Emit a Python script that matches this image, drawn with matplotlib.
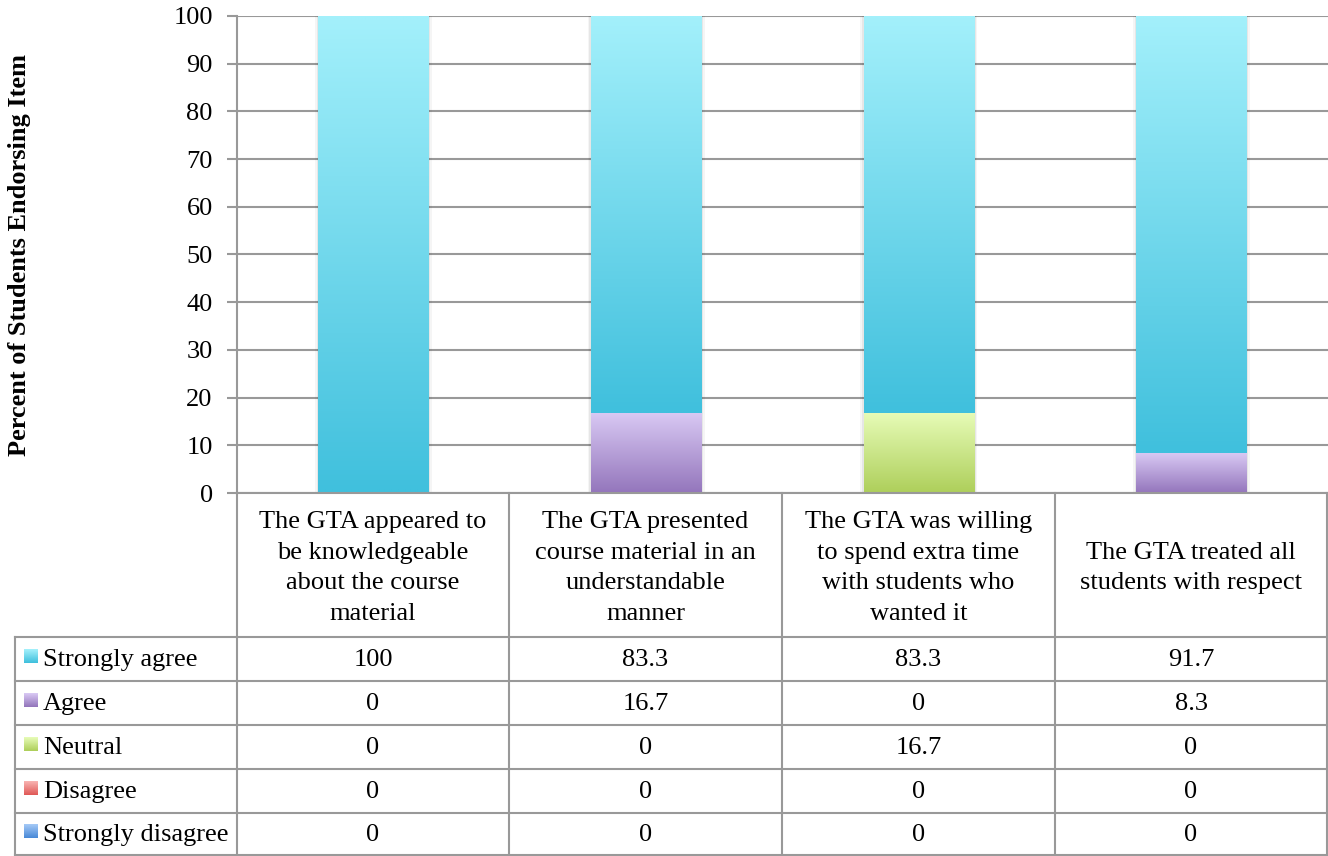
import numpy as np
import matplotlib.pyplot as plt
from matplotlib.colors import to_rgb
from matplotlib.lines import Line2D

# ----------------------------
# dados
# ----------------------------
items = [
    "The GTA appeared to\nbe knowledgeable\nabout the course\nmaterial",
    "The GTA presented\ncourse material in an\nunderstandable\nmanner",
    "The GTA was willing\nto spend extra time\nwith students who\nwanted it",
    "The GTA treated all\nstudents with respect",
]
levels = ["Strongly agree", "Agree", "Neutral", "Disagree", "Strongly disagree"]
strongly_agree = [100, 83.3, 83.3, 91.7]
agree = [0, 16.7, 0, 8.3]
neutral = [0, 0, 16.7, 0]
disagree = [0, 0, 0, 0]
strongly_disagree = [0, 0, 0, 0]
series = [strongly_agree, agree, neutral, disagree, strongly_disagree]

# gradientes (topo, base) por nível
grad = {
    "Strongly agree": ("#A3F0FB", "#40C0DD"),
    "Agree": ("#D8C8F3", "#9476BC"),
    "Neutral": ("#E6FBB6", "#AECF5B"),
    "Disagree": ("#F8B2B0", "#E05A58"),
    "Strongly disagree": ("#AACDF8", "#4A8AD8"),
}

W, H = 1328, 856
GRID = "#999999"
FS = 19
plt.rcParams["font.family"] = ["Liberation Serif", "DejaVu Serif"]


def fx(x):
    return x / W


def fy(y):
    return 1 - y / H


def gradient_img(top, bottom, n=64):
    t = np.linspace(0, 1, n)[:, None]
    c0 = np.array(to_rgb(bottom))
    c1 = np.array(to_rgb(top))
    return (c0 + (c1 - c0) * t)[:, None, :]


fig = plt.figure(figsize=(W / 100, H / 100), dpi=100)
ax = fig.add_axes([fx(237), fy(493), fx(1328 - 237), (493 - 16) / H])

# empilha de baixo (strongly disagree) para cima (strongly agree)
x = np.arange(len(items))
bottom = np.zeros(len(items))
for name, vals in reversed(list(zip(levels, series))):
    vals = np.asarray(vals, dtype=float)
    bars = ax.bar(x, vals, width=0.405, bottom=bottom, color="none",
                  edgecolor="none", zorder=3)
    top_c, bot_c = grad[name]
    for b in bars:
        if b.get_height() <= 0:
            continue
        x0, y0 = b.get_x(), b.get_y()
        x1, y1 = x0 + b.get_width(), y0 + b.get_height()
        # sombra suave
        for k, a in [(0.012, 0.04), (0.006, 0.06)]:
            ax.add_patch(plt.Rectangle((x0 - k, y0), (x1 - x0) + 2 * k,
                                       (y1 - y0), color="k",
                                       alpha=a, lw=0, zorder=2))
        ax.imshow(gradient_img(top_c, bot_c), extent=(x0, x1, y0, y1),
                  origin="lower", aspect="auto", interpolation="bilinear",
                  zorder=3)
    bottom += vals

ax.set_xlim(-0.5, len(items) - 0.5)
ax.set_ylim(0, 100)
ax.set_yticks(np.arange(0, 101, 10))
ax.set_xticks([])
ax.yaxis.grid(True, color=GRID, linewidth=1.5)
ax.set_axisbelow(True)
for s in ["top", "right", "bottom"]:
    ax.spines[s].set_visible(False)
ax.spines["left"].set_color(GRID)
ax.spines["left"].set_linewidth(1.5)
ax.tick_params(axis="y", length=7, width=1.5, color=GRID, labelsize=FS,
               pad=10.5)
fig.text(fx(20), fy(255), "Percent of Students Endorsing Item", rotation=90,
         ha="center", va="center", fontsize=FS, fontweight="bold")

# ----------------------------
# tabela de dados
# ----------------------------
col_edges = [237, 509, 782, 1055, 1327]
row_edges = [637, 681, 725, 769, 813, 855]


def hline(y, x0, x1):
    fig.add_artist(Line2D([fx(x0), fx(x1)], [fy(y), fy(y)], color=GRID,
                          lw=1.5))


def vline(x0, y0, y1):
    fig.add_artist(Line2D([fx(x0), fx(x0)], [fy(y0), fy(y1)], color=GRID,
                          lw=1.5))


hline(493, 237, 1328)
for y in row_edges:
    hline(y, 15, 1328)
for xe in col_edges:
    vline(xe, 493, 856)
vline(15, 637, 856)

for i, txt in enumerate(items):
    cx = (col_edges[i] + col_edges[i + 1]) / 2
    fig.text(fx(cx), fy(568), txt, ha="center", va="center", fontsize=FS,
             linespacing=1.52)

for r, (name, vals) in enumerate(zip(levels, series)):
    cy = (row_edges[r] + row_edges[r + 1]) / 2
    top_c, bot_c = grad[name]
    sw = fig.add_axes([fx(24), fy(cy + 4), fx(14), 14 / H])
    sw.imshow(gradient_img(top_c, bot_c, 16), origin="lower", aspect="auto",
              interpolation="bilinear", extent=(0, 1, 0, 1))
    sw.axis("off")
    fig.text(fx(43), fy(cy + 1), name, ha="left", va="center", fontsize=FS)
    for i, v in enumerate(vals):
        cx = (col_edges[i] + col_edges[i + 1]) / 2
        fig.text(fx(cx), fy(cy + 1), f"{v:g}", ha="center", va="center",
                 fontsize=FS)

fig.savefig("out.png", dpi=100)
